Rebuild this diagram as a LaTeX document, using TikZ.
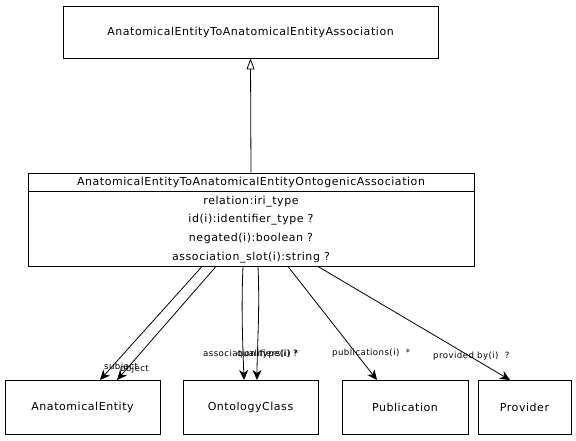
\documentclass[tikz,border=0pt]{standalone}
\usepackage{fontspec}
\setmainfont{DejaVu Sans}[LetterSpace=5]
\usetikzlibrary{arrows.meta,positioning}
\begin{document}
\begin{tikzpicture}[x=1pt,y=-1pt,
  cls/.style={draw,fill=white,line width=0.8pt,inner sep=0pt,font=\fontsize{11}{13}\selectfont},
  rel/.style={draw,line width=0.8pt,-{Stealth[length=10pt,width=9pt,inset=3pt]}},
  lbl/.style={font=\fontsize{8.6}{10}\selectfont,inner sep=0pt,fill=none},
  inh/.style={draw,line width=0.8pt,-{Triangle[open,length=11pt,width=8pt]}}]
\useasboundingbox (0,0) rectangle (576,440);
\node[cls,minimum width=375pt,minimum height=52pt] (top) at (250.5,32) {AnatomicalEntityToAnatomicalEntityAssociation};
\node[cls,minimum width=446pt,minimum height=18pt] (midt) at (251,182) {AnatomicalEntityToAnatomicalEntityOntogenicAssociation};
\node[cls,minimum width=446pt,minimum height=75pt,anchor=north,align=center,font=\fontsize{11}{18.7}\selectfont] (mida) at (midt.south) {relation:iri\_type\\id(i):identifier\_type ?\\negated(i):boolean ?\\association\_slot(i):string ?};
\node[cls,minimum width=155pt,minimum height=54pt] (ae) at (82.5,407) {AnatomicalEntity};
\node[cls,minimum width=135pt,minimum height=54pt] (oc) at (250.5,407) {OntologyClass};
\node[cls,minimum width=126pt,minimum height=54pt] (pub) at (405,407) {Publication};
\node[cls,minimum width=93pt,minimum height=54pt] (prov) at (524.5,407) {Provider};
\coordinate (s1) at (202,266.5); \coordinate (e1) at (100,380);
\coordinate (s2) at (216,266.5); \coordinate (e2) at (117,380);
\coordinate (s3) at (243,266.5); \coordinate (e3) at (244,380);
\coordinate (s4) at (258,266.5); \coordinate (e4) at (257,380);
\coordinate (s5) at (288,266.5); \coordinate (e5) at (377,380);
\coordinate (s6) at (318,266.5); \coordinate (e6) at (510,380);
\draw[inh] (midt.north) -- (top.south);
\draw[rel] (s1) -- (e1);
\draw[rel] (s2) -- (e2);
\draw[rel] (s3) .. controls (241,310) and (243,350) .. (e3);
\draw[rel] (s4) .. controls (260,310) and (257,350) .. (e4);
\draw[rel] (s5) -- (e5);
\draw[rel] (s6) -- (e6);
\node[lbl,anchor=west] (l1) at (104,367) {subject};
\node[lbl,anchor=west] (l2) at (120,369) {object};
\node[lbl,anchor=west] (l3) at (203,354) {association type(i) ?};
\node[lbl,anchor=west] (l4) at (237,354) {qualifiers(i) *};
\node[lbl,anchor=west] (l5) at (332,353) {publications(i) \ *};
\node[lbl,anchor=west] (l6) at (433,356) {provided by(i) \ ?};
\end{tikzpicture}
\end{document}
